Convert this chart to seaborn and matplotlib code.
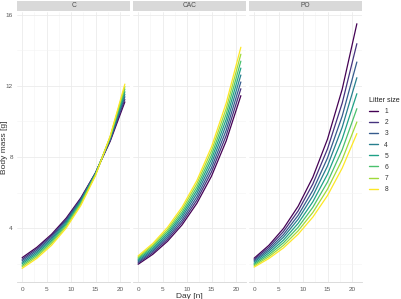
import matplotlib
matplotlib.use("Agg")
import pandas as pd
import matplotlib.pyplot as plt
import seaborn as sns
from matplotlib.ticker import MultipleLocator

# ------------------ Data ------------------
days = [0, 3, 6, 9, 12, 15, 18, 21]
litter_sizes = ["1", "2", "3", "4", "5", "6", "7", "8"]
groups = ["C", "CAC", "PO"]

# body mass [g] per litter size (rows) at each day in `days`
c_mass = [
    [2.35, 2.93, 3.66, 4.57, 5.71, 7.12, 8.89, 11.10],
    [2.26, 2.85, 3.58, 4.50, 5.66, 7.11, 8.94, 11.24],
    [2.18, 2.76, 3.50, 4.43, 5.61, 7.10, 8.99, 11.39],
    [2.09, 2.67, 3.41, 4.35, 5.55, 7.08, 9.03, 11.53],
    [2.01, 2.58, 3.32, 4.27, 5.49, 7.06, 9.08, 11.67],
    [1.92, 2.49, 3.23, 4.19, 5.43, 7.03, 9.12, 11.82],
    [1.84, 2.40, 3.14, 4.10, 5.36, 7.00, 9.15, 11.96],
    [1.75, 2.31, 3.04, 4.01, 5.28, 6.96, 9.18, 12.10],
]
cac_mass = [
    [1.98, 2.54, 3.27, 4.20, 5.40, 6.93, 8.91, 11.45],
    [2.05, 2.63, 3.38, 4.34, 5.58, 7.17, 9.21, 11.84],
    [2.11, 2.72, 3.49, 4.48, 5.76, 7.40, 9.51, 12.22],
    [2.18, 2.80, 3.60, 4.63, 5.95, 7.64, 9.82, 12.61],
    [2.25, 2.89, 3.71, 4.77, 6.13, 7.88, 10.12, 13.00],
    [2.32, 2.98, 3.82, 4.91, 6.31, 8.11, 10.42, 13.39],
    [2.38, 3.06, 3.93, 5.06, 6.50, 8.35, 10.72, 13.78],
    [2.45, 3.15, 4.05, 5.20, 6.68, 8.58, 11.03, 14.17],
]
po_mass = [
    [2.32, 3.04, 3.99, 5.24, 6.87, 9.01, 11.81, 15.49],
    [2.25, 2.93, 3.82, 4.98, 6.49, 8.46, 11.03, 14.37],
    [2.18, 2.82, 3.65, 4.73, 6.13, 7.95, 10.30, 13.34],
    [2.11, 2.72, 3.50, 4.51, 5.82, 7.50, 9.67, 12.46],
    [2.03, 2.61, 3.34, 4.28, 5.49, 7.04, 9.02, 11.56],
    [1.96, 2.50, 3.19, 4.06, 5.18, 6.60, 8.41, 10.72],
    [1.89, 2.40, 3.04, 3.86, 4.89, 6.20, 7.86, 9.97],
    [1.82, 2.30, 2.90, 3.67, 4.63, 5.84, 7.38, 9.32],
]

colors = ["#440154", "#46337E", "#365C8D", "#277F8E",
          "#1FA187", "#4AC16D", "#9FDA3A", "#FDE725"]

# ------------------ Long table for seaborn ------------------
rows = []
for group, mass in zip(groups, [c_mass, cac_mass, po_mass]):
    for litter, values in zip(litter_sizes, mass):
        for day, m in zip(days, values):
            rows.append({"group": group, "litter": litter, "day": day, "mass": m})
df = pd.DataFrame(rows)

# ------------------ Figure ------------------
sns.set_style("white")
plt.rcParams["font.family"] = ["Liberation Sans", "DejaVu Sans"]

W, H = 401, 299
fig = plt.figure(figsize=(W / 100, H / 100), dpi=100)

panel_left = [17, 133, 249]
panel_w = 113
panel_top = 12
panel_bottom = 281.7

for i, group in enumerate(groups):
    ax = fig.add_axes([panel_left[i] / W, (H - panel_bottom) / H,
                       panel_w / W, (panel_bottom - panel_top) / H])
    sub = df[df["group"] == group]
    sns.lineplot(data=sub, x="day", y="mass", hue="litter",
                 hue_order=litter_sizes, palette=colors, linewidth=0.9,
                 errorbar=None, sort=True, ax=ax, legend=(i == 2))

    ax.set_xlim(-1.05, 22.05)
    ax.set_ylim(1.0, 16.15)
    ax.xaxis.set_major_locator(MultipleLocator(5))
    ax.xaxis.set_minor_locator(MultipleLocator(2.5))
    ax.yaxis.set_major_locator(MultipleLocator(4))
    ax.yaxis.set_minor_locator(MultipleLocator(2))
    ax.grid(True, which="major", color="#ebebeb", linewidth=0.6)
    ax.grid(True, which="minor", color="#f3f3f3", linewidth=0.4)
    ax.set_axisbelow(True)
    for s in ["top", "right", "left"]:
        ax.spines[s].set_visible(False)
    ax.spines["bottom"].set_color("#d6d6d6")
    ax.spines["bottom"].set_linewidth(0.6)
    ax.tick_params(axis="x", which="major", length=2, width=0.5,
                   color="#d6d6d6", labelsize=4.6, labelcolor="#5a5a5a", pad=1.5)
    ax.tick_params(axis="x", which="minor", length=0)
    ax.tick_params(axis="y", which="both", length=0, labelsize=4.6,
                   labelcolor="#5a5a5a", pad=3)
    ax.set_xlabel("")
    ax.set_ylabel("")
    if i > 0:
        ax.set_yticklabels([])
    if i == 1:
        ax.set_xlabel("Day [n]", fontsize=6, color="#333333", labelpad=1)

    # facet strip
    sax = fig.add_axes([panel_left[i] / W, (H - 11) / H, panel_w / W, 10.5 / H])
    sax.set_facecolor("#d9d9d9")
    sax.set_xticks([])
    sax.set_yticks([])
    for s in sax.spines.values():
        s.set_visible(False)
    sax.text(0.5, 0.5, group, ha="center", va="center", fontsize=4.8,
             color="#4d4d4d", transform=sax.transAxes)

    if i == 2:
        leg = ax.legend(title="Litter size", frameon=False, loc="upper left",
                        bbox_to_anchor=(369 / W, (H - 97) / H),
                        bbox_transform=fig.transFigure,
                        fontsize=4.8, title_fontsize=5.1, handlelength=1.4,
                        handletextpad=0.9, labelspacing=0.62,
                        borderaxespad=0, borderpad=0)
        leg._legend_box.align = "left"
        for line in leg.get_lines():
            line.set_linewidth(1.0)
        for t in leg.get_texts():
            t.set_color("#333333")
        leg.get_title().set_color("#222222")

fig.text(5 / W, (H - 147) / H, "Body mass [g]", rotation=90, ha="center",
         va="center", fontsize=6, color="#333333")

fig.savefig("out.png", dpi=100)
